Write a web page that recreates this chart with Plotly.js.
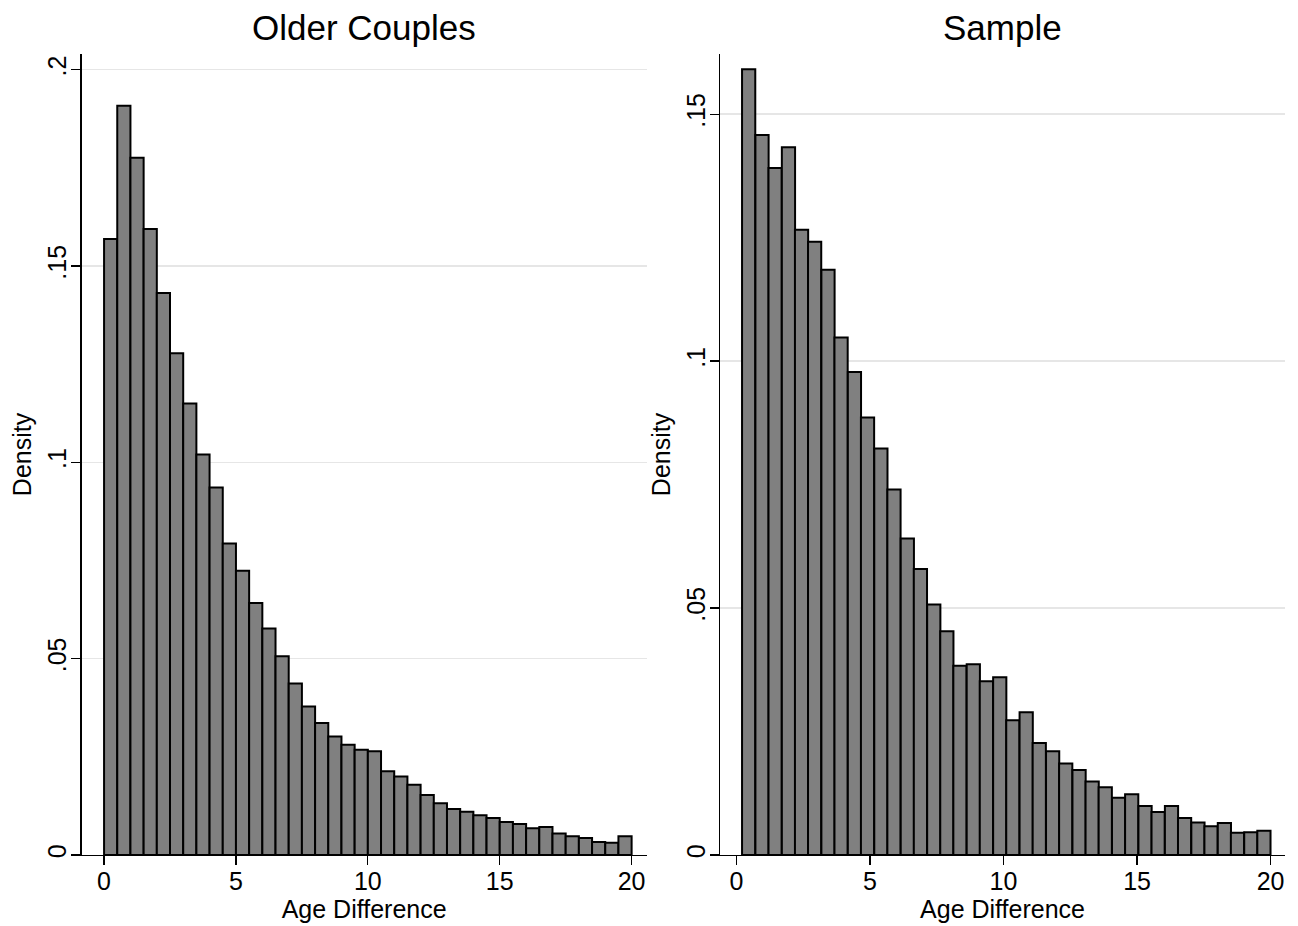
<!DOCTYPE html>
<html>
<head>
<meta charset="utf-8">
<script src="https://cdn.plot.ly/plotly-3.0.1.min.js"></script>
<style>html,body{margin:0;padding:0;background:#fff;} #chart{width:1298px;height:926px;}</style>
</head>
<body>
<div id="chart"></div>
<script>
// Older Couples histogram: bin centres (width 0.5) and densities
const olderBinCenters = [0.25,0.75,1.25,1.75,2.25,2.75,3.25,3.75,4.25,4.75,5.25,5.75,6.25,6.75,7.25,7.75,8.25,8.75,9.25,9.75,10.25,10.75,11.25,11.75,12.25,12.75,13.25,13.75,14.25,14.75,15.25,15.75,16.25,16.75,17.25,17.75,18.25,18.75,19.25,19.75];
const olderBinWidth = 0.5;
const olderDensity = [0.1569,0.1908,0.1776,0.1594,0.1431,0.1278,0.1150,0.1020,0.0936,0.0793,0.0724,0.0642,0.0577,0.0506,0.0437,0.0378,0.0336,0.0302,0.0281,0.0268,0.0264,0.0213,0.0200,0.0179,0.0153,0.0132,0.0117,0.0110,0.0101,0.0094,0.0084,0.0079,0.0068,0.0071,0.0055,0.0048,0.0043,0.0033,0.0031,0.0048];

// Sample histogram: bin centres (width ~0.495) and densities
const sampleBinCenters = [0.46,0.96,1.45,1.95,2.44,2.93,3.43,3.92,4.42,4.91,5.41,5.90,6.40,6.89,7.39,7.88,8.37,8.87,9.36,9.86,10.35,10.85,11.34,11.84,12.33,12.83,13.32,13.81,14.31,14.80,15.30,15.79,16.29,16.78,17.28,17.77,18.27,18.76,19.26,19.75];
const sampleBinWidth = 0.4947;
const sampleDensity = [0.1591,0.1458,0.1391,0.1433,0.1266,0.1242,0.1185,0.1048,0.0978,0.0886,0.0823,0.0740,0.0641,0.0579,0.0507,0.0453,0.0383,0.0386,0.0352,0.0360,0.0273,0.0289,0.0227,0.0210,0.0185,0.0172,0.0149,0.0137,0.0116,0.0123,0.0099,0.0087,0.0099,0.0075,0.0066,0.0058,0.0065,0.0045,0.0046,0.0049];

// Tick labels
const xTickVals = [0,5,10,15,20];
const xTickText = ["0","5","10","15","20"];
const leftYTickVals = [0,0.05,0.1,0.15,0.2];
const leftYTickText = ["0",".05",".1",".15",".2"];
const rightYTickVals = [0,0.05,0.1,0.15];
const rightYTickText = ["0",".05",".1",".15"];

const panelTitles = ["Older Couples","Sample"];
const xTitle = "Age Difference";
const yTitle = "Density";

const FONT = "Liberation Sans, Arial, Helvetica, sans-serif";

const barStyle = {color:'#808080', line:{color:'#000000', width:2}};

const traces = [
  {type:'bar', x:olderBinCenters, y:olderDensity, width:olderBinWidth, marker:barStyle, xaxis:'x', yaxis:'y', hoverinfo:'x+y'},
  {type:'bar', x:sampleBinCenters, y:sampleDensity, width:sampleBinWidth, marker:barStyle, xaxis:'x2', yaxis:'y2', hoverinfo:'x+y'}
];

const xCommon = {
  showline:true, linecolor:'#000', linewidth:1.3,
  ticks:'outside', ticklen:9, tickwidth:1.3, tickcolor:'#000',
  tickvals:xTickVals, ticktext:xTickText, ticklabelstandoff:-5,
  tickfont:{family:FONT, size:25, color:'#000'},
  showgrid:false, zeroline:false,
  title:{text:xTitle, font:{family:FONT, size:25, color:'#000'}, standoff:0}
};
const yCommon = {
  showline:true, linecolor:'#000', linewidth:1.3,
  ticks:'outside', ticklen:9, tickwidth:1.3, tickcolor:'#000',
  tickangle:-90, ticklabelstandoff:-5,
  tickfont:{family:FONT, size:25, color:'#000'},
  showgrid:true, gridcolor:'#e6e6e6', gridwidth:1.6, zeroline:false,
  title:{text:yTitle, font:{family:FONT, size:25, color:'#000'}, standoff:4}
};

const layout = {
  width:1298, height:926,
  margin:{l:0, r:0, t:0, b:0},
  paper_bgcolor:'#fff', plot_bgcolor:'#fff',
  showlegend:false, bargap:0,
  xaxis: Object.assign({}, xCommon, {domain:[0.0629,0.4982], range:[-0.85,20.57], anchor:'y'}),
  yaxis: Object.assign({}, yCommon, {domain:[0.0767,0.9417], range:[0,0.2040], anchor:'x', tickvals:leftYTickVals, ticktext:leftYTickText}),
  xaxis2: Object.assign({}, xCommon, {domain:[0.5547,0.9900], range:[-0.613,20.54], anchor:'y2'}),
  yaxis2: Object.assign({}, yCommon, {domain:[0.0767,0.9417], range:[0,0.1622], anchor:'x2', tickvals:rightYTickVals, ticktext:rightYTickText}),
  annotations:[
    {text:panelTitles[0], xref:'paper', yref:'paper', x:0.2806, y:1-27/926, xanchor:'center', yanchor:'middle', showarrow:false, font:{family:FONT, size:35, color:'#000'}},
    {text:panelTitles[1], xref:'paper', yref:'paper', x:0.7724, y:1-27/926, xanchor:'center', yanchor:'middle', showarrow:false, font:{family:FONT, size:35, color:'#000'}}
  ]
};

Plotly.newPlot('chart', traces, layout, {displayModeBar:false, staticPlot:true});
</script>
</body>
</html>
